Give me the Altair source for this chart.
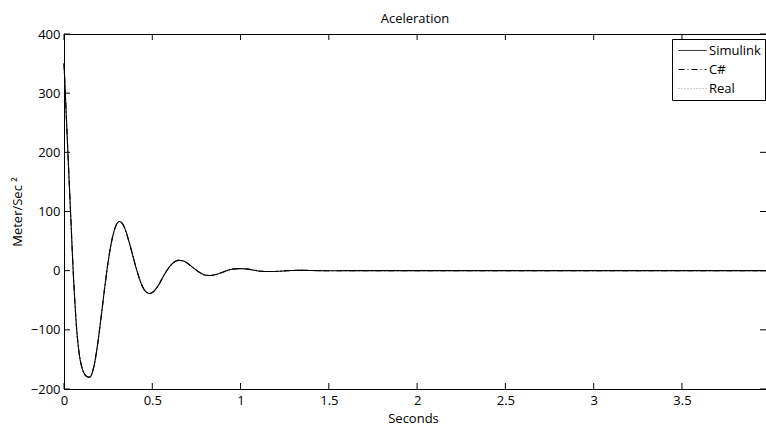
import altair as alt
import pandas as pd

# ---- data ----
series_names = ["Simulink", "C#", "Real"]

time_s = [0.0, 0.0075, 0.022, 0.037, 0.052, 0.062, 0.072, 0.085, 0.100, 0.115,
          0.130, 0.145, 0.17, 0.19, 0.21, 0.23, 0.25, 0.27, 0.29, 0.313,
          0.33, 0.35, 0.37, 0.39, 0.41, 0.43, 0.45, 0.47, 0.483, 0.50,
          0.52, 0.54, 0.56, 0.58, 0.60, 0.62, 0.65, 0.68, 0.71, 0.74,
          0.77, 0.80, 0.826, 0.86, 0.89, 0.92, 0.95, 0.995, 1.04, 1.08,
          1.12, 1.16, 1.20, 1.25, 1.30, 1.34, 1.40, 1.50, 1.60, 2.0,
          2.5, 3.0, 3.5, 3.976]

simulink = [350, 300, 200, 100, 0, -55, -100, -138, -162, -174,
            -179, -180, -161, -125, -79, -30, 15, 50, 73, 83,
            80, 67, 47, 25, 3, -16, -30, -37, -38.5, -37,
            -31, -22, -11, -1, 7.5, 13.5, 17.5, 16, 10, 3,
            -3.5, -7.5, -8.2, -6.6, -3.5, -0.2, 2.4, 3.4, 2.6, 0.6,
            -1.1, -1.5, -1.3, -0.4, 0.4, 0.6, 0.3, -0.1, 0, 0,
            0, 0, 0, 0]

csharp = list(simulink)   # curves coincide in the reference
real = list(simulink)

x_ticks = [0, 0.5, 1, 1.5, 2, 2.5, 3, 3.5]
y_ticks = [-200, -100, 0, 100, 200, 300, 400]

# ---- tables ----
rows = []
for name, vals in zip(series_names, [simulink, csharp, real]):
    for t, a in zip(time_s, vals):
        rows.append({"t": t, "acc": a, "series": name})
df = pd.DataFrame(rows)
xt_df = pd.DataFrame({"t": x_ticks})
yt_df = pd.DataFrame({"acc": y_ticks})

W, H = 702, 355
FONT = "Open Sans"

xs = alt.Scale(domain=[0, 3.976], nice=False, zero=False)
ys = alt.Scale(domain=[-200, 400], nice=False, zero=False)

x_axis = alt.Axis(values=x_ticks, format="~g", title="Seconds", ticks=False,
                  grid=False, domain=True, domainColor="black", labelFlush=False,
                  labelPadding=5, titleX=349, titleY=29, titleBaseline="middle",
                  titleAlign="center")
y_axis = alt.Axis(values=y_ticks, format="d", title="Meter/Sec ²", ticks=False,
                  grid=False, domain=True, domainColor="black", labelFlush=False,
                  labelPadding=4, titleX=-47, titleY=177.5, titleAngle=270,
                  titleBaseline="middle", titleAlign="center")

color_scale = alt.Scale(domain=series_names, range=["#000000", "#000000", "#9a9a9a"])
dash_scale = alt.Scale(domain=series_names, range=[[1, 0], [6, 3, 1, 3], [1, 2]])

legend = alt.Legend(title=None, orient="none", legendX=608, legendY=5,
                    symbolType="M-2,0H2", symbolSize=196, symbolStrokeWidth=1,
                    symbolOffset=9,
                    labelFont=FONT, labelFontSize=13, labelColor="black",
                    padding=4, rowPadding=4, labelOffset=9,
                    strokeColor="black", fillColor="white")

def line_layer(name):
    return alt.Chart(df).transform_filter(
        alt.datum.series == name
    ).mark_line(strokeWidth=1.1, interpolate="monotone").encode(
        x=alt.X("t:Q", scale=xs, axis=x_axis),
        y=alt.Y("acc:Q", scale=ys, axis=y_axis),
        color=alt.Color("series:N", scale=color_scale, legend=legend),
        strokeDash=alt.StrokeDash("series:N", scale=dash_scale, legend=legend),
    )

lines = [line_layer("Real"), line_layer("C#"), line_layer("Simulink")]

tick_len = 6
xt_bottom = alt.Chart(xt_df).mark_rule(color="black", strokeWidth=1).encode(
    x=alt.X("t:Q", scale=xs, axis=x_axis), y=alt.value(H), y2=alt.value(H - tick_len))
xt_top = alt.Chart(xt_df).mark_rule(color="black", strokeWidth=1).encode(
    x=alt.X("t:Q", scale=xs, axis=x_axis), y=alt.value(0), y2=alt.value(tick_len))
yt_left = alt.Chart(yt_df).mark_rule(color="black", strokeWidth=1).encode(
    y=alt.Y("acc:Q", scale=ys, axis=y_axis), x=alt.value(0), x2=alt.value(tick_len))
yt_right = alt.Chart(yt_df).mark_rule(color="black", strokeWidth=1).encode(
    y=alt.Y("acc:Q", scale=ys, axis=y_axis), x=alt.value(W), x2=alt.value(W - tick_len))
top_border = alt.Chart(xt_df).mark_rule(color="black", strokeWidth=1).encode(
    x=alt.value(0), x2=alt.value(W), y=alt.value(0.5))

chart = alt.layer(
    top_border, xt_bottom, xt_top, yt_left, yt_right, *lines
).properties(
    width=W, height=H,
    title=alt.TitleParams("Aceleration", font=FONT, fontSize=13, fontWeight="normal",
                          color="black", anchor="middle", offset=2),
    autosize=alt.AutoSizeParams(type="none"),
    padding={"left": 64, "top": 34, "right": 0, "bottom": 38},
    background="white",
).configure_view(
    stroke=None
).configure_axis(
    labelFont=FONT, labelFontSize=13, labelColor="black",
    titleFont=FONT, titleFontSize=13, titleFontWeight="normal", titleColor="black",
    domainWidth=1,
)

chart.save("out.html", embed_options={"renderer": "svg", "actions": False})
